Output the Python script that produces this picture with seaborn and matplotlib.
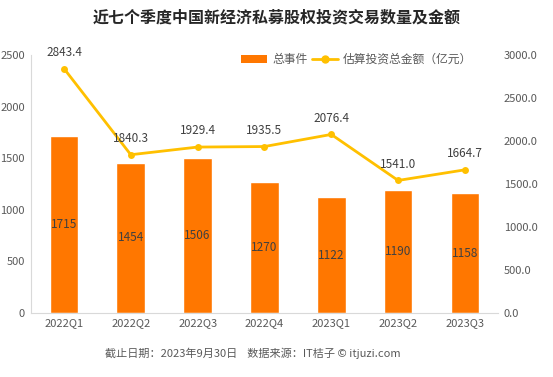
import matplotlib
matplotlib.use("Agg")
import matplotlib.pyplot as plt
import seaborn as sns
import pandas as pd
from matplotlib.patches import Patch
from matplotlib.lines import Line2D

quarters = ["2022Q1", "2022Q2", "2022Q3", "2022Q4", "2023Q1", "2023Q2", "2023Q3"]
events = [1715, 1454, 1506, 1270, 1122, 1190, 1158]
amounts = [2843.4, 1840.3, 1929.4, 1935.5, 2076.4, 1541.0, 1664.7]
left_ticks = [0, 500, 1000, 1500, 2000, 2500]
right_ticks = [0, 500, 1000, 1500, 2000, 2500, 3000]

sns.set_theme(style="white")
plt.rcParams['font.family'] = ['Noto Sans CJK SC', 'DejaVu Sans']

bar_color = "#FF7700"
line_color = "#FFC000"
text_color = "#595959"

df = pd.DataFrame({"quarter": quarters, "events": events, "amount": amounts})

fig = plt.figure(figsize=(5.53, 3.77), dpi=100)
ax = fig.add_axes([0.0552, 0.170, 0.846, 0.684])
sns.barplot(data=df, x="quarter", y="events", color=bar_color, width=0.43,
            saturation=1, ax=ax)
ax.set_ylim(0, 2500)
ax.set_yticks(left_ticks)
ax.set_xlabel("")
ax.set_ylabel("")
ax.tick_params(axis='both', length=0, labelsize=8, colors=text_color, pad=4)
for s in ["top", "right"]:
    ax.spines[s].set_visible(False)
for s in ["left", "bottom"]:
    ax.spines[s].set_color("#D9D9D9")
    ax.spines[s].set_linewidth(0.8)
for i, v in enumerate(events):
    ax.text(i, v / 2, str(v), ha="center", va="center", fontsize=8.5, color="#404040")

ax2 = ax.twinx()
sns.lineplot(x=list(range(len(quarters))), y=amounts, ax=ax2, color=line_color,
             linewidth=2, marker="o", markersize=5, markeredgewidth=0)
ax2.set_ylim(0, 3000)
ax2.set_yticks(right_ticks)
ax2.set_yticklabels([f"{t:.1f}" for t in right_ticks])
ax2.tick_params(axis='y', length=0, labelsize=8, colors=text_color, pad=4)
for s in ["top", "right", "left", "bottom"]:
    ax2.spines[s].set_visible(False)
for i, v in enumerate(amounts):
    ax2.annotate(f"{v:.1f}", (i, v), xytext=(0, 7), textcoords="offset points",
                 ha="center", va="bottom", fontsize=8.5, color="#404040")
ax.set_xlim(-0.5, len(quarters) - 0.5)

handles = [Patch(facecolor=bar_color, edgecolor="none"),
           Line2D([0], [0], color=line_color, linewidth=2, marker="o", markersize=5)]
fig.legend(handles, ["总事件", "估算投资总金额（亿元）"], loc="center",
           bbox_to_anchor=(0.645, 0.842), ncol=2, frameon=False, fontsize=8.5,
           handlelength=2.2, handletextpad=0.4, columnspacing=0.4,
           labelcolor=text_color)

fig.text(0.5, 0.955, "近七个季度中国新经济私募股权投资交易数量及金额", ha="center",
         va="center", fontsize=11.5, fontweight="bold", color="#262626")
fig.text(0.457, 0.064, "截止日期：2023年9月30日    数据来源：IT桔子 © itjuzi.com",
         ha="center", va="center", fontsize=8, color=text_color)

fig.savefig("out.png", dpi=100)
